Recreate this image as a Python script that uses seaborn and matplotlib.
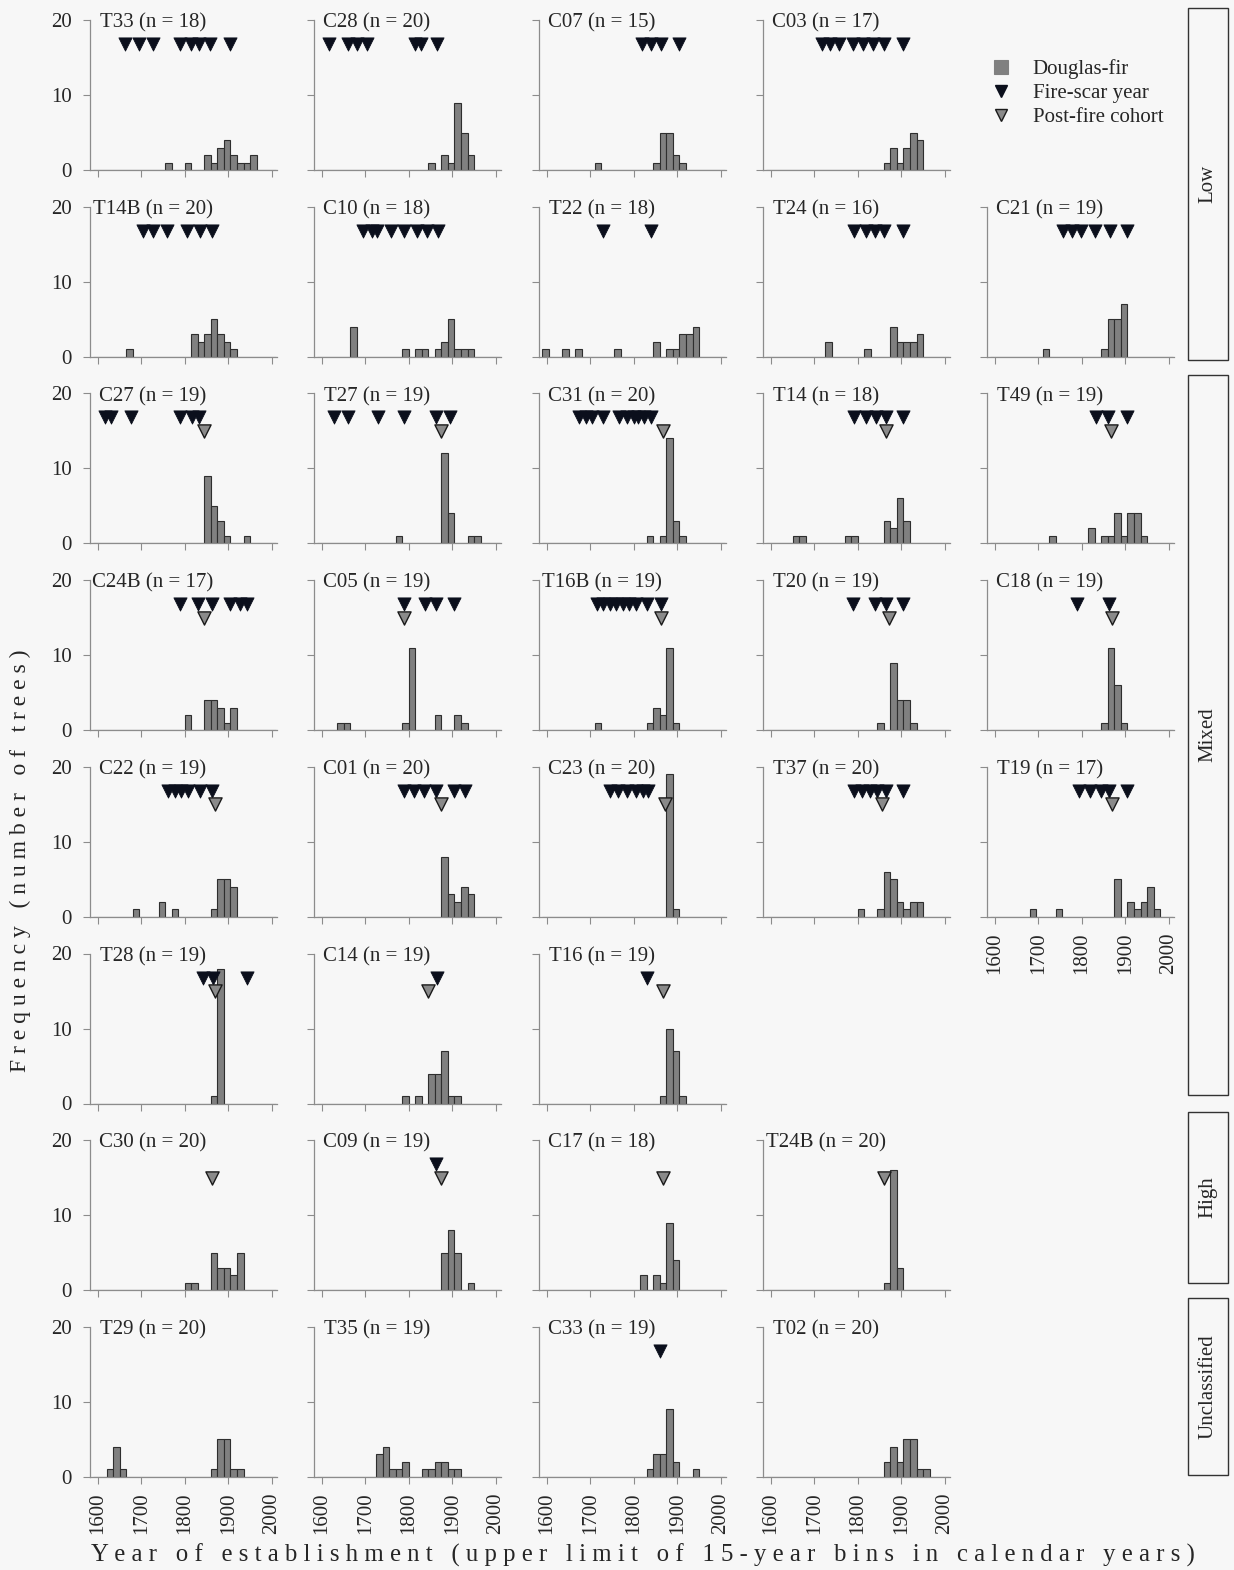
import numpy as np
import pandas as pd
import matplotlib
matplotlib.use("Agg")
import matplotlib.pyplot as plt
from matplotlib.lines import Line2D
from matplotlib.patches import Rectangle
import seaborn as sns

sns.set_style("ticks")
plt.rcParams["font.family"] = ["Liberation Serif", "DejaVu Serif"]

# Site layout: one list per row of panels
panel_rows = [
    ["T33", "C28", "C07", "C03"],
    ["T14B", "C10", "T22", "T24", "C21"],
    ["C27", "T27", "C31", "T14", "T49"],
    ["C24B", "C05", "T16B", "T20", "C18"],
    ["C22", "C01", "C23", "T37", "T19"],
    ["T28", "C14", "T16"],
    ["C30", "C09", "C17", "T24B"],
    ["T29", "T35", "C33", "T02"],
]

# Fire-regime classes: (label, first row, last row)
fire_classes = [("Low", 0, 1), ("Mixed", 2, 5), ("High", 6, 6), ("Unclassified", 7, 7)]

n_trees = {
    "T33": 18, "C28": 20, "C07": 15, "C03": 17,
    "T14B": 20, "C10": 18, "T22": 18, "T24": 16, "C21": 19,
    "C27": 19, "T27": 19, "C31": 20, "T14": 18, "T49": 19,
    "C24B": 17, "C05": 19, "T16B": 19, "T20": 19, "C18": 19,
    "C22": 19, "C01": 20, "C23": 20, "T37": 20, "T19": 17,
    "T28": 19, "C14": 19, "T16": 19,
    "C30": 20, "C09": 19, "C17": 18, "T24B": 20,
    "T29": 20, "T35": 19, "C33": 19, "T02": 20,
}

# Upper limit of each 15-year establishment bin
bin_upper = {
    "T33": [1770, 1815, 1860, 1875, 1890, 1905, 1920, 1935, 1950, 1965],
    "C28": [1860, 1890, 1905, 1920, 1935, 1950],
    "C07": [1725, 1860, 1875, 1890, 1905, 1920],
    "C03": [1875, 1890, 1905, 1920, 1935, 1950],
    "T14B": [1680, 1830, 1845, 1860, 1875, 1890, 1905, 1920],
    "C10": [1680, 1800, 1830, 1845, 1875, 1890, 1905, 1920, 1935, 1950],
    "T22": [1605, 1650, 1680, 1770, 1860, 1890, 1905, 1920, 1935, 1950],
    "T24": [1740, 1830, 1890, 1905, 1920, 1935, 1950],
    "C21": [1725, 1860, 1875, 1890, 1905],
    "C27": [1860, 1875, 1890, 1905, 1950],
    "T27": [1785, 1890, 1905, 1950, 1965],
    "C31": [1845, 1875, 1890, 1905, 1920],
    "T14": [1665, 1680, 1785, 1800, 1875, 1890, 1905, 1920],
    "T49": [1740, 1830, 1860, 1875, 1890, 1905, 1920, 1935, 1950],
    "C24B": [1815, 1860, 1875, 1890, 1905, 1920],
    "C05": [1650, 1665, 1800, 1815, 1875, 1920, 1935],
    "T16B": [1725, 1845, 1860, 1875, 1890, 1905],
    "T20": [1860, 1890, 1905, 1920, 1935],
    "C18": [1860, 1875, 1890, 1905],
    "C22": [1695, 1755, 1785, 1875, 1890, 1905, 1920],
    "C01": [1890, 1905, 1920, 1935, 1950],
    "C23": [1890, 1905],
    "T37": [1815, 1860, 1875, 1890, 1905, 1920, 1935, 1950],
    "T19": [1695, 1755, 1890, 1920, 1935, 1950, 1965, 1980],
    "T28": [1875, 1890],
    "C14": [1800, 1830, 1860, 1875, 1890, 1905, 1920],
    "T16": [1875, 1890, 1905, 1920],
    "C30": [1815, 1830, 1875, 1890, 1905, 1920, 1935],
    "C09": [1890, 1905, 1920, 1950],
    "C17": [1830, 1860, 1875, 1890, 1905],
    "T24B": [1875, 1890, 1905],
    "T29": [1635, 1650, 1665, 1875, 1890, 1905, 1920, 1935],
    "T35": [1740, 1755, 1770, 1785, 1800, 1845, 1860, 1875, 1890, 1905, 1920],
    "C33": [1845, 1860, 1875, 1890, 1905, 1950],
    "T02": [1875, 1890, 1905, 1920, 1935, 1950, 1965],
}

# Number of Douglas-fir trees in each bin
tree_counts = {
    "T33": [1, 1, 2, 1, 3, 4, 2, 1, 1, 2],
    "C28": [1, 2, 1, 9, 5, 2],
    "C07": [1, 1, 5, 5, 2, 1],
    "C03": [1, 3, 1, 3, 5, 4],
    "T14B": [1, 3, 2, 3, 5, 3, 2, 1],
    "C10": [4, 1, 1, 1, 1, 2, 5, 1, 1, 1],
    "T22": [1, 1, 1, 1, 2, 1, 1, 3, 3, 4],
    "T24": [2, 1, 4, 2, 2, 2, 3],
    "C21": [1, 1, 5, 5, 7],
    "C27": [9, 5, 3, 1, 1],
    "T27": [1, 12, 4, 1, 1],
    "C31": [1, 1, 14, 3, 1],
    "T14": [1, 1, 1, 1, 3, 2, 6, 3],
    "T49": [1, 2, 1, 1, 4, 1, 4, 4, 1],
    "C24B": [2, 4, 4, 3, 1, 3],
    "C05": [1, 1, 1, 11, 2, 2, 1],
    "T16B": [1, 1, 3, 2, 11, 1],
    "T20": [1, 9, 4, 4, 1],
    "C18": [1, 11, 6, 1],
    "C22": [1, 2, 1, 1, 5, 5, 4],
    "C01": [8, 3, 2, 4, 3],
    "C23": [19, 1],
    "T37": [1, 1, 6, 5, 2, 1, 2, 2],
    "T19": [1, 1, 5, 2, 1, 2, 4, 1],
    "T28": [1, 18],
    "C14": [1, 1, 4, 4, 7, 1, 1],
    "T16": [1, 10, 7, 1],
    "C30": [1, 1, 5, 3, 3, 2, 5],
    "C09": [5, 8, 5, 1],
    "C17": [2, 2, 1, 9, 4],
    "T24B": [1, 16, 3],
    "T29": [1, 4, 1, 1, 5, 5, 1, 1],
    "T35": [3, 4, 1, 1, 2, 1, 1, 2, 2, 1, 1],
    "C33": [1, 3, 3, 9, 2, 1],
    "T02": [2, 4, 2, 5, 5, 1, 1],
}

fire_scar_years = {
    "T33": [1662, 1694, 1728, 1788, 1815, 1832, 1858, 1905],
    "C28": [1617, 1660, 1681, 1704, 1815, 1829, 1864],
    "C07": [1818, 1840, 1863, 1905],
    "C03": [1718, 1735, 1757, 1790, 1812, 1835, 1860, 1905],
    "T14B": [1703, 1728, 1759, 1805, 1834, 1863],
    "C10": [1695, 1715, 1727, 1758, 1788, 1819, 1842, 1868],
    "T22": [1730, 1840],
    "T24": [1791, 1818, 1840, 1860, 1905],
    "C21": [1757, 1778, 1798, 1830, 1865, 1905],
    "C27": [1617, 1631, 1677, 1788, 1817, 1832],
    "T27": [1629, 1660, 1729, 1788, 1862, 1894],
    "C31": [1675, 1690, 1705, 1730, 1765, 1785, 1800, 1810, 1823, 1840],
    "T14": [1791, 1819, 1841, 1864, 1904],
    "T49": [1833, 1861, 1905],
    "C24B": [1788, 1831, 1863, 1904, 1928, 1944],
    "C05": [1788, 1838, 1863, 1905],
    "T16B": [1715, 1730, 1745, 1760, 1775, 1790, 1805, 1830, 1863],
    "T20": [1789, 1839, 1864, 1904],
    "C18": [1790, 1863],
    "C22": [1762, 1777, 1792, 1808, 1834, 1863],
    "C01": [1788, 1812, 1835, 1862, 1904, 1929],
    "C23": [1745, 1763, 1785, 1805, 1820, 1833],
    "T37": [1791, 1809, 1827, 1844, 1864, 1904],
    "T19": [1793, 1818, 1843, 1863, 1903],
    "T28": [1841, 1865, 1943],
    "C14": [1865],
    "T16": [1830],
    "C09": [1862],
    "C33": [1860],
}

cohort_years = {
    "C27": [1843], "T27": [1873], "C31": [1868], "T14": [1864], "T49": [1868],
    "C24B": [1843], "C05": [1788], "T16B": [1863], "T20": [1872], "C18": [1870],
    "C22": [1869], "C01": [1873], "C23": [1871], "T37": [1855], "T19": [1870],
    "T28": [1869], "C14": [1845], "T16": [1868],
    "C30": [1862], "C09": [1875], "C17": [1868], "T24B": [1860],
}

BG = "#f7f7f7"
BAR = "#808080"
EDGE = "#2e2e2e"
SCAR = "#0b0f1c"
COHORT = "#8a8a8a"
AXIS = "#8c8c8c"

W, H = 1234, 1570
fig = plt.figure(figsize=(W / 100, H / 100), dpi=100, facecolor=BG)

col_left = [90, 314, 539, 763, 987]
row_zero = [170 + 186.7 * i for i in range(8)]
ax_w, ax_h = 187, 150

# Row of the lowest panel in each column
lowest_row_by_col = {c: [r for r, row in enumerate(panel_rows) if len(row) > c][-1]
                     for c in range(5)}

for r, row in enumerate(panel_rows):
    for c, site in enumerate(row):
        x0 = col_left[c]
        y0 = row_zero[r]
        ax = fig.add_axes([x0 / W, 1 - y0 / H, ax_w / W, ax_h / H])
        ax.set_facecolor("none")

        df = pd.DataFrame({"year": np.array(bin_upper[site], dtype=float) - 7.5,
                           "trees": np.array(tree_counts[site], dtype=float)})
        sns.histplot(data=df, x="year", weights="trees", binwidth=15,
                     binrange=(1590, 2010), ax=ax,
                     color=BAR, edgecolor=EDGE, linewidth=0.8, alpha=1)

        scars = fire_scar_years.get(site, [])
        if scars:
            sns.scatterplot(x=scars, y=[16.8] * len(scars), marker="v", s=90,
                            color=SCAR, edgecolor=SCAR, linewidth=0.6,
                            ax=ax, legend=False, zorder=4, clip_on=False)
        cohorts = cohort_years.get(site, [])
        if cohorts:
            sns.scatterplot(x=cohorts, y=[15] * len(cohorts), marker="v", s=90,
                            color=COHORT, edgecolor="#1a1a1a", linewidth=1.0,
                            ax=ax, legend=False, zorder=4, clip_on=False)

        ax.set_xlim(1582, 2012)
        ax.set_ylim(0, 20)
        ax.set_xlabel("")
        ax.set_ylabel("")
        ax.set_xticks(range(1600, 2001, 100))
        ax.set_yticks([0, 10, 20])
        for side in ("top", "right"):
            ax.spines[side].set_visible(False)
        for side in ("left", "bottom"):
            ax.spines[side].set_color(AXIS)
            ax.spines[side].set_linewidth(0.9)
        ax.tick_params(direction="out", length=5, width=0.8, color=AXIS,
                       labelsize=15, pad=4)
        ax.tick_params(axis="y", pad=8)
        if c != 0:
            ax.tick_params(labelleft=False)
        if lowest_row_by_col[c] == r and (r == 7 or (c >= 3 and r == 4)):
            ax.tick_params(axis="x", labelrotation=90, labelsize=15, pad=6)
        else:
            ax.tick_params(labelbottom=False)

        ax.text(63 / ax_w, 0.98, f"{site} (n = {n_trees[site]})",
                transform=ax.transAxes, ha="center", va="center", fontsize=15)

# Fire-regime strips on the right
strip_spans = {"Low": (8, 360), "Mixed": (375, 1095),
               "High": (1112, 1283), "Unclassified": (1298, 1475)}
for label, _, _ in fire_classes:
    top, bot = strip_spans[label]
    fig.patches.append(Rectangle((1188 / W, 1 - bot / H), 40 / W, (bot - top) / H,
                                 transform=fig.transFigure, facecolor=BG,
                                 edgecolor="#333333", linewidth=1.0))
    fig.text(1208 / W, 1 - (top + bot) / 2 / H, label, rotation=90,
             ha="center", va="center", fontsize=15)

# Legend
handles = [
    Line2D([], [], marker="s", linestyle="none", markersize=10,
           markerfacecolor=BAR, markeredgecolor=BAR, markeredgewidth=0.8),
    Line2D([], [], marker="v", linestyle="none", markersize=9,
           markerfacecolor=SCAR, markeredgecolor=SCAR),
    Line2D([], [], marker="v", linestyle="none", markersize=9,
           markerfacecolor=COHORT, markeredgecolor="#1a1a1a"),
]
fig.legend(handles, ["Douglas-fir", "Fire-scar year", "Post-fire cohort"],
           loc="upper left", bbox_to_anchor=(991 / W, 1 - 59 / H),
           frameon=False, fontsize=15, handlelength=1.0, handletextpad=1.0,
           labelspacing=0.22, borderpad=0, borderaxespad=0)


def spaced(text):
    return "   ".join(" ".join(word) for word in text.split(" "))


fig.text(20 / W, 1 - 861 / H, spaced("Frequency (number of trees)"),
         rotation=90, ha="center", va="center", fontsize=17)
fig.text(643 / W, 1 - 1555 / H,
         spaced("Year of establishment (upper limit of 15-year bins in calendar years)"),
         ha="center", va="center", fontsize=17.8)

fig.savefig("out.png", dpi=100, facecolor=BG)
